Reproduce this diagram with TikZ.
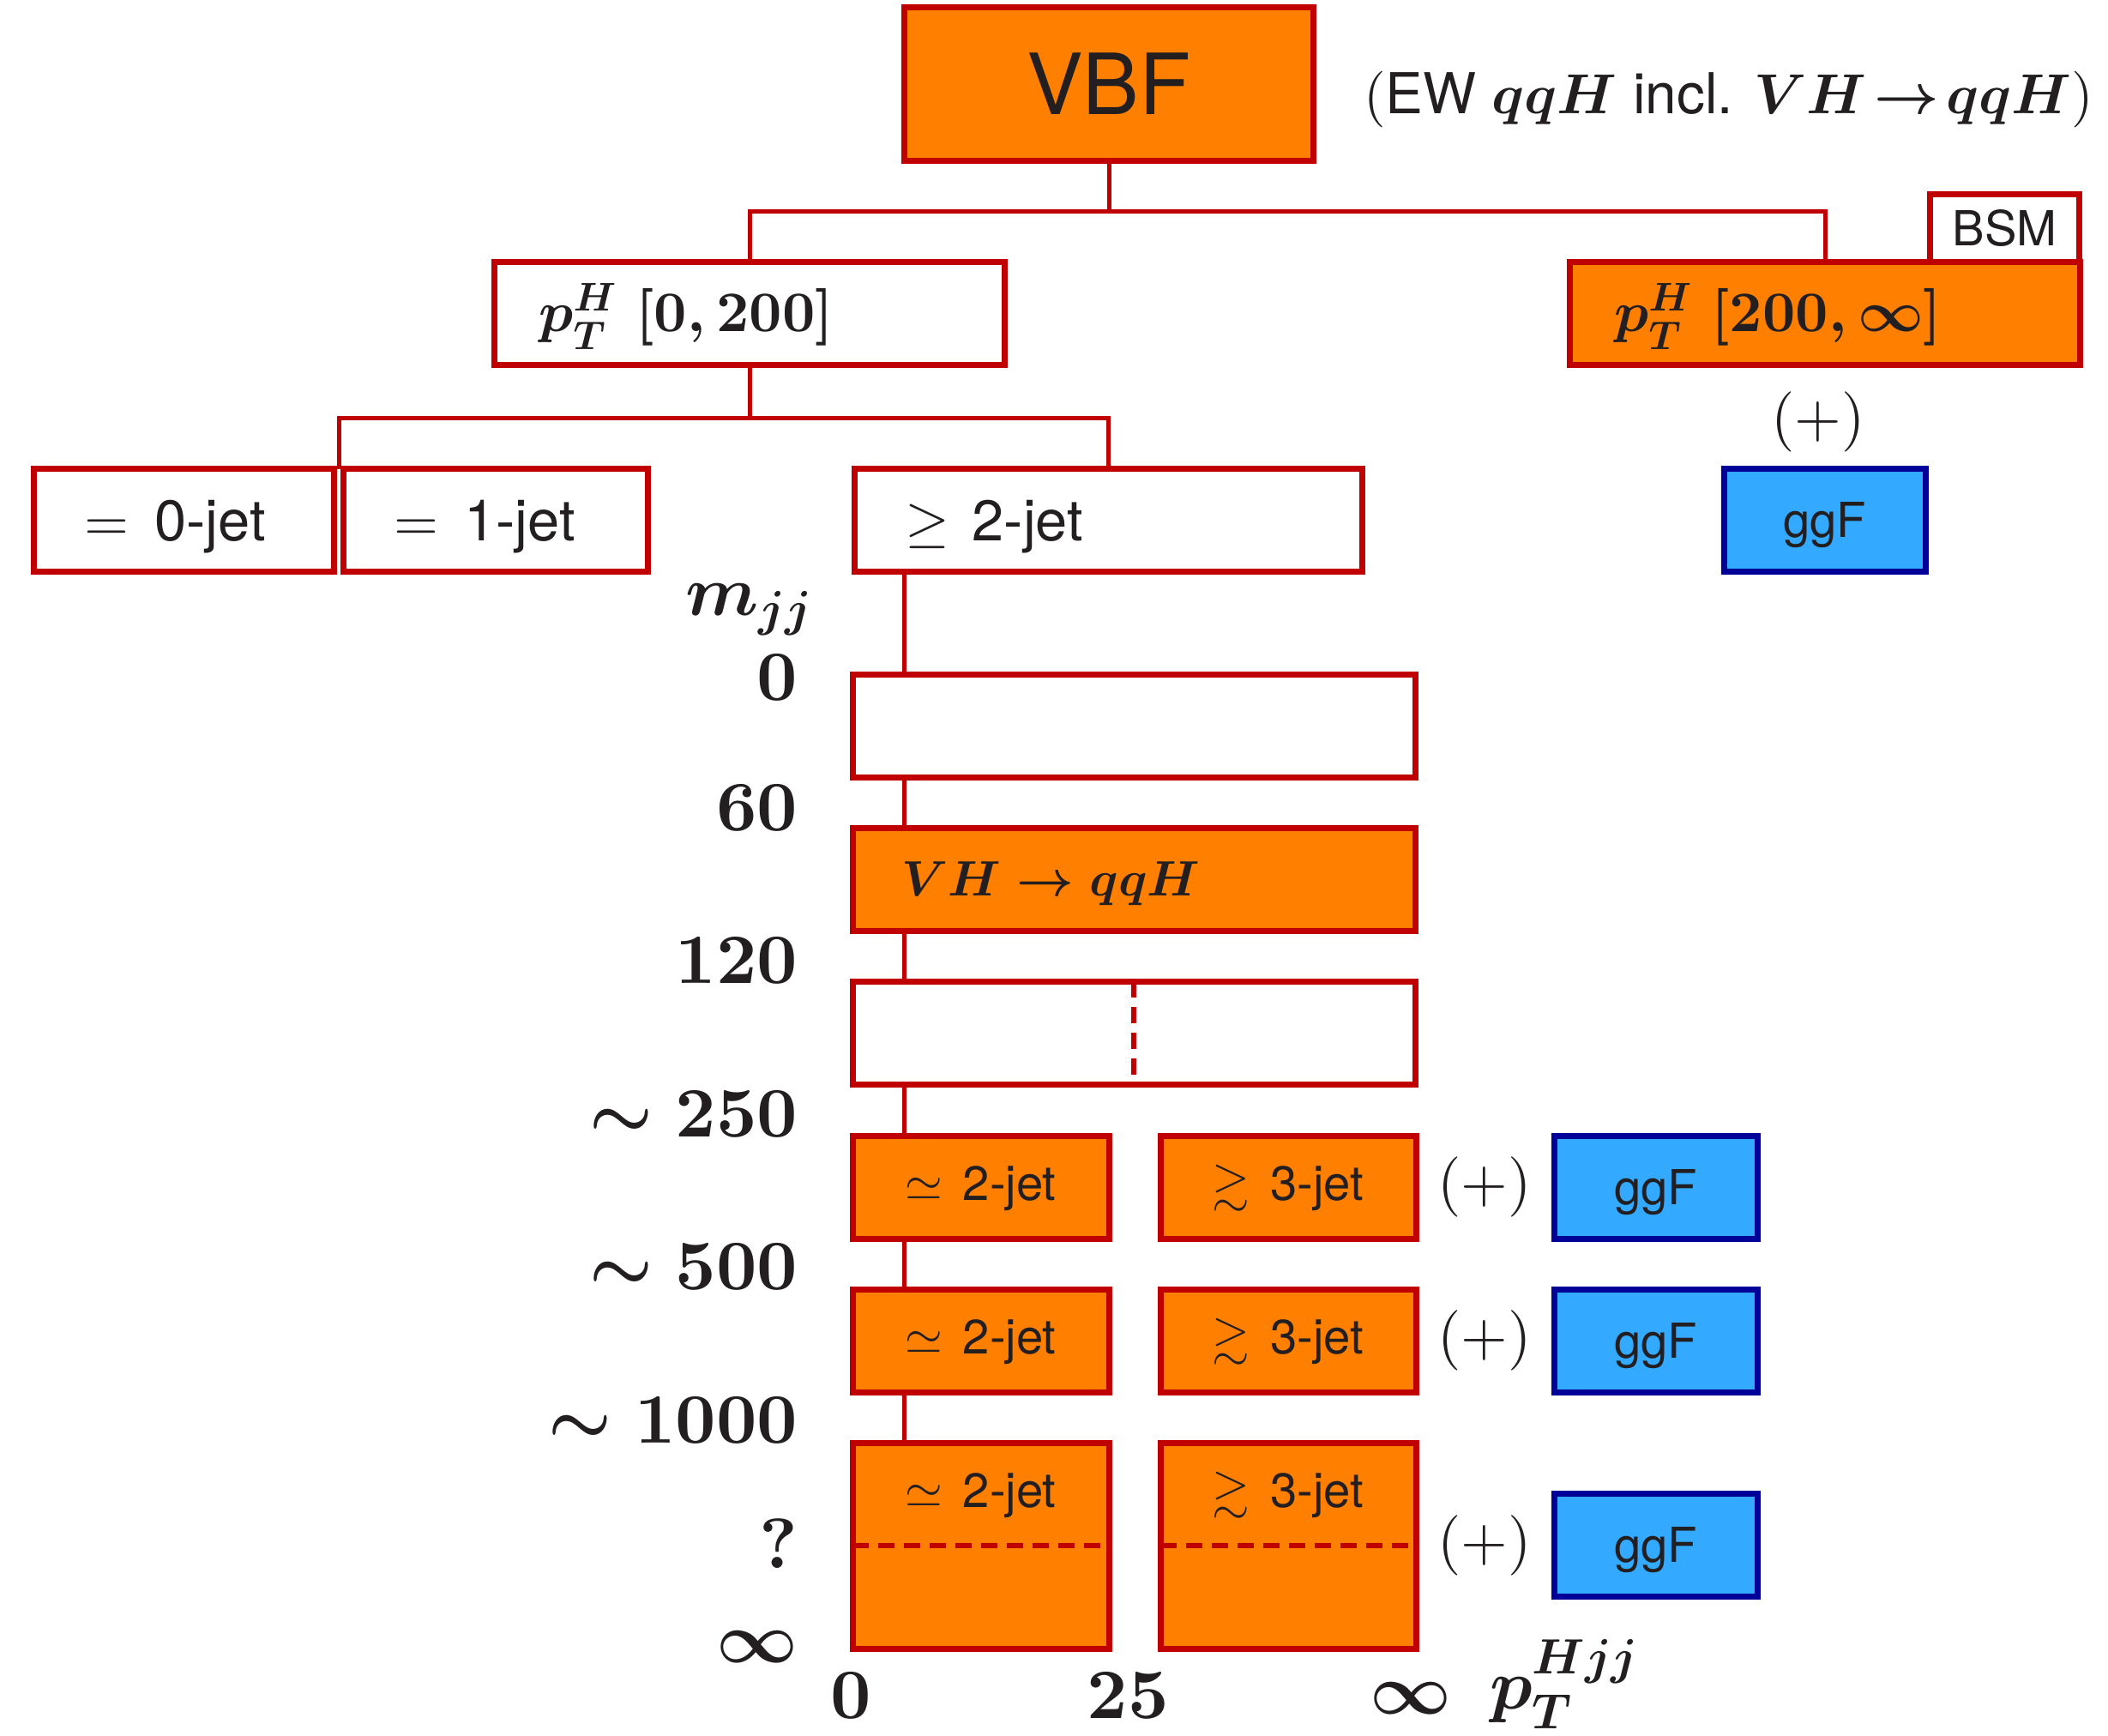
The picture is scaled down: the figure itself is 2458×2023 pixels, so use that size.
\documentclass[tikz,border=0pt]{standalone}
\usepackage{amssymb}
\usepackage[no-math]{fontspec}
\newfontfamily\hv{TeX Gyre Heros}
\DeclareFontShape{OT1}{cmr}{m}{n}{<->cmr10}{}
\DeclareFontShape{OT1}{cmr}{bx}{n}{<->cmbx10}{}
\DeclareFontShape{OML}{cmm}{m}{it}{<->cmmi10}{}
\DeclareFontShape{OML}{cmm}{b}{it}{<->cmmib10}{}
\DeclareFontShape{OMS}{cmsy}{m}{n}{<->cmsy10}{}
\DeclareFontShape{OMS}{cmsy}{b}{n}{<->cmbsy10}{}
\usetikzlibrary{backgrounds}
\definecolor{vred}{RGB}{192,0,0}
\definecolor{vorange}{RGB}{255,128,0}
\definecolor{vblue}{RGB}{51,170,255}
\definecolor{vnavy}{RGB}{0,0,153}
\definecolor{ink}{RGB}{35,31,32}
\tikzset{
  box/.style={draw=vred, line width=0.7mm, inner sep=0pt, outer sep=0pt, text=ink, minimum height=12mm},
  wbox/.style={box, fill=white},
  obox/.style={box, fill=vorange},
  gbox/.style={draw=vnavy, fill=vblue, line width=0.7mm, inner sep=0pt, outer sep=0pt, text=ink,
    minimum height=12mm, font=\hv\fontsize{16}{19}\selectfont, text height=11.5pt, text depth=0pt},
  conn/.style={draw=vred, line width=0.5mm},
  dashline/.style={draw=vred, line width=0.55mm, dash pattern=on 1.9mm off 1.1mm},
  lab/.style={inner sep=0pt, outer sep=0pt, text=ink},
  leftpad/.style 2 args={text width=#1, inner xsep=#2, align=left},
  treelab/.style={font=\hv\fontsize{19}{23}\selectfont, text height=13.7pt, text depth=0pt},
  rowlab/.style={lab, font=\hv\fontsize{16}{19}\selectfont, text height=11.5pt, text depth=0pt},
  ptlab/.style={font=\fontsize{19}{23}\selectfont\boldmath, text height=12.2pt, text depth=0pt},
  axlab/.style={lab, font=\fontsize{23.5}{28}\selectfont\boldmath},
  plus/.style={lab, font=\fontsize{20}{24}\selectfont},
}
\begin{document}
\begin{tikzpicture}[x=0.1mm, y=-0.1mm]
\useasboundingbox (0,0) rectangle (2458,2023);

% top level
\node[obox, minimum width=47.7mm, minimum height=17.9mm, font=\hv\fontsize{28}{33}\selectfont] (vbf) at (1293,98) {VBF};
\node[lab, anchor=base west, font=\fontsize{18.7}{22}\selectfont] (ew) at (1590,132)
  {$($\hv EW {\boldmath$qqH$} incl. {\boldmath$VH\!\to\! qqH$}$)$};

% pT^H level
\node[wbox, minimum width=59.5mm, leftpad={49.1mm}{5.2mm}, ptlab] (pt1) at (874,365.5) {$p_T^H\;[0,200]$};
\node[obox, minimum width=59.5mm, leftpad={49.1mm}{5.2mm}, ptlab] (pt2) at (2128,365.5) {$p_T^H\;[200,\infty]$};
\node[wbox, minimum width=17.4mm, minimum height=7.9mm, font=\hv\fontsize{16}{19}\selectfont] (bsm) at (2337.5,266) {BSM};
\node[plus] (plus0) at (2120,492) {$(+)$};
\node[gbox, minimum width=23.5mm] (g0) at (2127.5,606.5) {ggF};

% jet level
\node[wbox, minimum width=35mm, leftpad={23.2mm}{5.9mm}, treelab] (j0) at (214.5,606.5) {$=$\hspace{0.45em}0-jet};
\node[wbox, minimum width=35.5mm, leftpad={23.7mm}{5.9mm}, treelab] (j1) at (578,606.5) {$=$\hspace{0.45em}1-jet};
\node[wbox, minimum width=59.2mm, leftpad={47.4mm}{5.9mm}, treelab] (j2) at (1292,606.5) {$\geq$\hspace{0.4em}2-jet};

% mjj rows
\node[wbox, minimum width=65.6mm] (r0) at (1322,846) {};
\node[obox, minimum width=65.6mm, leftpad={54.2mm}{5.7mm}, font=\fontsize{16.5}{20}\selectfont\boldmath, text height=11.3pt, text depth=0pt] (r1) at (1322,1025) {$VH \to qqH$};
\node[wbox, minimum width=65.6mm] (r2) at (1322,1204) {};

\node[obox, minimum width=29.9mm] (r3a) at (1143.5,1384) {};
\node[obox, minimum width=29.8mm] (r3b) at (1502,1384) {};
\node[obox, minimum width=29.9mm] (r4a) at (1143.5,1563) {};
\node[obox, minimum width=29.8mm] (r4b) at (1502,1563) {};
\node[obox, minimum width=29.9mm, minimum height=24mm] (r5a) at (1143.5,1802) {};
\node[obox, minimum width=29.8mm, minimum height=24mm] (r5b) at (1502,1802) {};

\node[rowlab] (t3a) at ([yshift=0.5mm]r3a.center) {$\simeq$\hspace{0.42em}2-jet};
\node[rowlab] (t3b) at ([yshift=0.5mm]r3b.center) {$\gtrsim$\hspace{0.42em}3-jet};
\node[rowlab] (t4a) at ([yshift=0.5mm]r4a.center) {$\simeq$\hspace{0.42em}2-jet};
\node[rowlab] (t4b) at ([yshift=0.5mm]r4b.center) {$\gtrsim$\hspace{0.42em}3-jet};
\node[rowlab] (t5a) at ([yshift=-5.5mm]r5a.north) {$\simeq$\hspace{0.42em}2-jet};
\node[rowlab] (t5b) at ([yshift=-5.5mm]r5b.north) {$\gtrsim$\hspace{0.42em}3-jet};

\node[plus] (plus3) at (1731,1384) {$(+)$};
\node[plus] (plus4) at (1731,1563) {$(+)$};
\node[plus] (plus5) at (1731,1802) {$(+)$};
\node[gbox, minimum width=23.7mm] (g3) at (1930.5,1384) {ggF};
\node[gbox, minimum width=23.7mm] (g4) at (1930.5,1563) {ggF};
\node[gbox, minimum width=23.7mm] (g5) at (1930.5,1801) {ggF};

% dashed separators
\draw[dashline] (r2.north) -- (r2.south);
\draw[dashline] (r5a.west) -- (r5a.east);
\draw[dashline] (r5b.west) -- (r5b.east);

% axis labels
\node[axlab, anchor=base east] (mjj) at (948,717) {$m_{jj}$};
\node[axlab, anchor=base east] (y0) at (930,816) {$0$};
\node[axlab, anchor=base east] (y60) at (930,968) {$60$};
\node[axlab, anchor=base east] (y120) at (930,1146) {$120$};
\node[axlab, anchor=base east] (y250) at (930,1325) {$\sim 250$};
\node[axlab, anchor=base east] (y500) at (930,1503) {$\sim 500$};
\node[axlab, anchor=base east] (y1000) at (930,1682) {$\sim 1000$};
\node[axlab, anchor=base east] (yq) at (930,1828) {$?$};
\node[axlab, anchor=base east] (yinf) at (930,1938) {$\infty$};

\node[axlab, anchor=base] (x0) at (992,2003) {$0$};
\node[axlab, anchor=base] (x25) at (1315,2003) {$25$};
\node[axlab, anchor=base] (xinf) at (1645,1998) {$\infty$};
\node[axlab, anchor=base west] (ptjj) at (1737,1992) {$p_T^{Hjj}$};

% connectors
\coordinate (h1) at (0,246);
\coordinate (h2) at (0,487);
\coordinate (sp) at (395.5,0);
\coordinate (tr) at (1054,0);
\begin{scope}[on background layer]
\draw[conn] (vbf.south) -- (vbf.south |- h1);
\draw[conn] (pt1.north) |- (vbf.south |- h1) -| (pt2.north);
\draw[conn] (pt1.south) -- (pt1.south |- h2);
\draw[conn] (j0.north -| sp) |- (j2.north |- h2) -- (j2.north);
\draw[conn] (j2.south -| tr) -- (r5a.north -| tr);
\end{scope}
\end{tikzpicture}
\end{document}
